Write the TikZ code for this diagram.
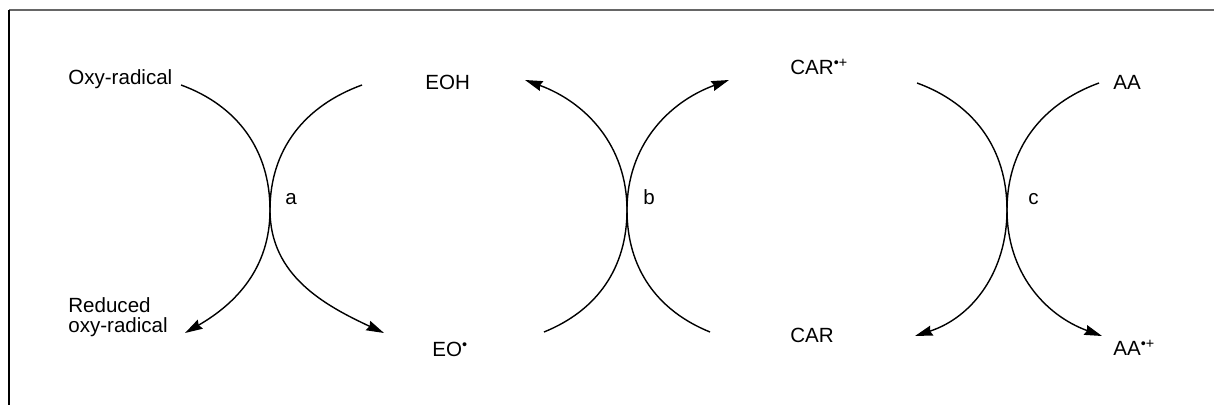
\documentclass[tikz,border=0pt]{standalone}
\usepackage{fontspec}
\setmainfont{Liberation Sans}
\usetikzlibrary{arrows.meta}
\tikzset{
    lbl/.style={font=\fontsize{11.7}{11.5}\selectfont, inner sep=0pt, anchor=base west},
    curve/.style={line width=0.8pt},
    arrowcurve/.style={curve, -{Stealth[length=10pt,width=5.8pt,inset=1pt]}},
}
\begin{document}
\begin{tikzpicture}[x=0.02cm,y=0.02cm]
    \useasboundingbox (0,0) rectangle (1214,-405);
    % frame
    \draw[black!60, line width=1pt] (9,-10) -- (1214,-10);
    \draw[line width=0.6pt] (9,-10) -- (9,-405);
    % species
    \node[lbl] (oxy) at (68,-85) {Oxy-radical};
    \node[lbl, align=left] (redoxy) at (68,-333) {Reduced\\oxy-radical};
    \node[lbl] (eoh) at (425,-90) {EOH};
    \node[lbl] (eo) at (432,-357) {EO\textsuperscript{\textbullet}};
    \node[lbl] (carp) at (790,-75) {CAR\textsuperscript{\textbullet+}};
    \node[lbl] (car) at (790,-342) {CAR};
    \node[lbl] (aa) at (1113,-90) {AA};
    \node[lbl] (aap) at (1113,-356) {AA\textsuperscript{\textbullet+}};
    % reactions
    \node[lbl] (ra) at (285,-205) {a};
    \node[lbl] (rb) at (643,-205) {b};
    \node[lbl] (rc) at (1028,-205) {c};
    % crossings and ends
    \coordinate (xa) at (270,-210);
    \coordinate (xb) at (627,-210);
    \coordinate (xc) at (1007,-210);
    \coordinate (a1) at (181,-85);
    \coordinate (a2) at (185,-333);
    \coordinate (a3) at (362,-85);
    \coordinate (a4) at (384,-333);
    \coordinate (b1) at (544,-332);
    \coordinate (b2) at (525,-80);
    \coordinate (b3) at (710,-332);
    \coordinate (b4) at (729,-80);
    \coordinate (c1) at (917,-83);
    \coordinate (c2) at (915,-336);
    \coordinate (c3) at (1099,-83);
    \coordinate (c4) at (1102,-336);
    % a
    \draw[arrowcurve] (a1) to[out=-20,in=90] (xa) to[out=-90,in=30] (a2);
    \draw[arrowcurve] (a3) to[out=200,in=90] (xa) to[out=-90,in=155] (a4);
    % b
    \draw[arrowcurve] (b1) to[out=22,in=-90] (xb) to[out=90,in=-20] (b2);
    \draw[arrowcurve] (b3) to[out=158,in=-90] (xb) to[out=90,in=200] (b4);
    % c
    \draw[arrowcurve] (c1) to[out=-20,in=90] (xc) to[out=-90,in=18] (c2);
    \draw[arrowcurve] (c3) to[out=200,in=90] (xc) to[out=-90,in=160] (c4);
\end{tikzpicture}
\end{document}
